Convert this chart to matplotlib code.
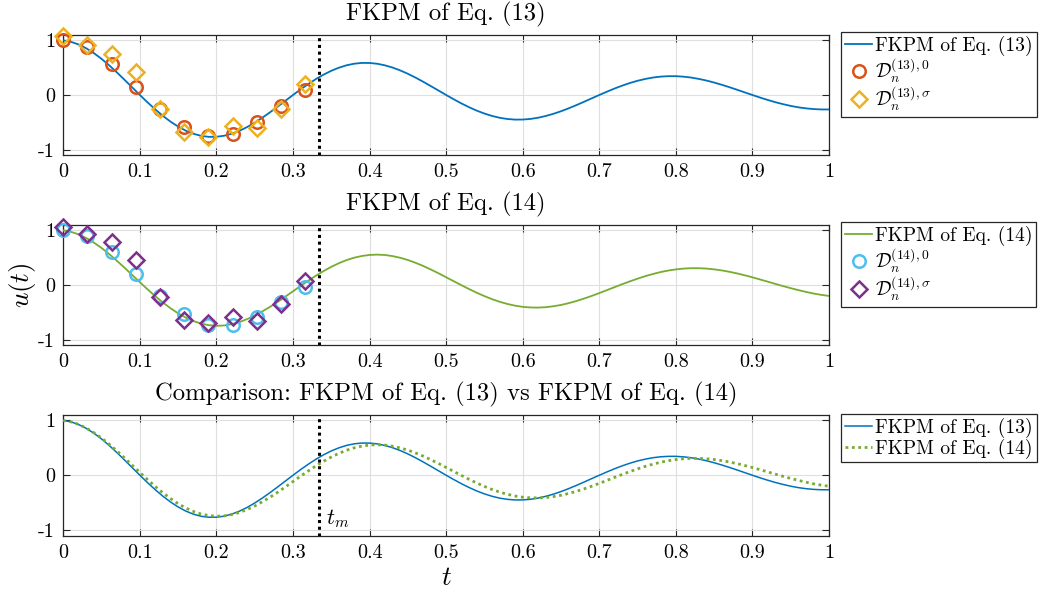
import matplotlib
matplotlib.use("Agg")
import matplotlib.pyplot as plt

# ---------------- data ----------------
t_curve = [round(0.01 * k, 2) for k in range(101)]
u13_curve = [1.000, 0.975, 0.926, 0.856, 0.767, 0.662, 0.543, 0.414, 0.278, 0.139,
             0.000, -0.135, -0.263, -0.382, -0.488, -0.579, -0.654, -0.711, -0.749, -0.767,
             -0.766, -0.747, -0.710, -0.656, -0.588, -0.507, -0.416, -0.317, -0.213, -0.106,
             0.000, 0.104, 0.202, 0.293, 0.374, 0.444, 0.501, 0.545, 0.574, 0.588,
             0.587, 0.573, 0.544, 0.503, 0.451, 0.389, 0.319, 0.243, 0.163, 0.082,
             0.000, -0.079, -0.155, -0.224, -0.287, -0.340, -0.384, -0.418, -0.440, -0.451,
             -0.450, -0.439, -0.417, -0.385, -0.345, -0.298, -0.244, -0.186, -0.125, -0.062,
             0.000, 0.061, 0.119, 0.172, 0.220, 0.261, 0.294, 0.320, 0.337, 0.345,
             0.345, 0.336, 0.320, 0.295, 0.265, 0.228, 0.187, 0.143, 0.096, 0.048,
             0.000, -0.047, -0.091, -0.132, -0.168, -0.200, -0.226, -0.245, -0.258, -0.265,
             -0.265]
u14_curve = [1.000, 0.975, 0.928, 0.861, 0.777, 0.678, 0.566, 0.444, 0.316, 0.183,
             0.051, -0.079, -0.204, -0.320, -0.426, -0.520, -0.598, -0.661, -0.708, -0.736,
             -0.748, -0.742, -0.718, -0.681, -0.625, -0.563, -0.483, -0.401, -0.310, -0.213,
             -0.115, -0.016, 0.080, 0.171, 0.256, 0.333, 0.400, 0.457, 0.501, 0.532,
             0.551, 0.557, 0.550, 0.530, 0.499, 0.458, 0.407, 0.349, 0.284, 0.215,
             0.142, 0.069, -0.004, -0.075, -0.142, -0.204, -0.260, -0.308, -0.348, -0.379,
             -0.401, -0.412, -0.414, -0.407, -0.390, -0.366, -0.333, -0.294, -0.249, -0.201,
             -0.148, -0.094, -0.039, 0.015, 0.067, 0.116, 0.162, 0.202, 0.237, 0.265,
             0.286, 0.301, 0.308, 0.308, 0.301, 0.287, 0.267, 0.242, 0.212, 0.178,
             0.141, 0.101, 0.061, 0.020, -0.020, -0.058, -0.094, -0.127, -0.157, -0.181,
             -0.201]

t_pts = [0.0, 0.0316, 0.0632, 0.0948, 0.1264, 0.158, 0.1896, 0.2212, 0.2528, 0.2844, 0.316]
d13_0 = [1.00, 0.885, 0.56, 0.15, -0.25, -0.58, -0.75, -0.71, -0.50, -0.195, 0.10]
d13_s = [1.08, 0.91, 0.76, 0.415, -0.26, -0.67, -0.77, -0.57, -0.61, -0.26, 0.21]
d14_0 = [1.00, 0.89, 0.60, 0.195, -0.20, -0.53, -0.74, -0.735, -0.58, -0.305, -0.03]
d14_s = [1.07, 0.93, 0.785, 0.46, -0.215, -0.64, -0.70, -0.58, -0.66, -0.355, 0.08]

t_m = 1.0 / 3.0

xticks = [0, 0.1, 0.2, 0.3, 0.4, 0.5, 0.6, 0.7, 0.8, 0.9, 1]
xticklabels = ["0", "0.1", "0.2", "0.3", "0.4", "0.5", "0.6", "0.7", "0.8", "0.9", "1"]
yticks = [-1, 0, 1]
yticklabels = ["-1", "0", "1"]

titles = ["FKPM of Eq. (13)", "FKPM of Eq. (14)",
          "Comparison: FKPM of Eq. (13) vs FKPM of Eq. (14)"]

# ---------------- style ----------------
plt.rcParams["font.family"] = "serif"
plt.rcParams["font.serif"] = ["cmr10"]
plt.rcParams["mathtext.fontset"] = "cm"
plt.rcParams["axes.unicode_minus"] = False
plt.rcParams["axes.formatter.use_mathtext"] = True

C_BLUE = "#0072BD"
C_RED = "#D95319"
C_YEL = "#EDB120"
C_PUR = "#7E2F8E"
C_GRN = "#77AC30"
C_CYAN = "#4DBEEE"

TICK_FS = 14.5
TITLE_FS = 17.8
LEG_FS = 14

W, H = 1043, 598
fig = plt.figure(figsize=(W / 100, H / 100), dpi=100)

left = 63.3 / W
width = (829 - 63.3) / W
boxes = [(35, 155), (225, 345), (415, 535.5)]
axes = []
for (top, bot) in boxes:
    ax = fig.add_axes([left, 1 - bot / H, width, (bot - top) / H])
    axes.append(ax)


def style(ax, title):
    ax.set_xlim(0, 1)
    ax.set_ylim(-1.1, 1.1)
    ax.set_xticks(xticks)
    ax.set_xticklabels(xticklabels)
    ax.set_yticks(yticks)
    ax.set_yticklabels(yticklabels)
    ax.tick_params(direction="in", length=5, width=0.8, top=True, right=True,
                   labelsize=TICK_FS, colors="#262626", pad=6)
    for lab in ax.get_xticklabels() + ax.get_yticklabels():
        lab.set_color("black")
    ax.grid(True, color="#dfdfdf", linewidth=0.8)
    ax.set_axisbelow(True)
    for s in ax.spines.values():
        s.set_color("#262626")
        s.set_linewidth(0.9)
    ax.set_title(title, fontsize=TITLE_FS, pad=10.5)
    ax.axvline(t_m, color="black", linestyle=(0, (1, 1.2)), linewidth=2.2, zorder=4)


mk = dict(linestyle="none", markerfacecolor="none", markeredgewidth=1.8, clip_on=False)

# panel 1
ax = axes[0]
style(ax, titles[0])
ax.plot(t_curve, u13_curve, color=C_BLUE, linewidth=1.3, label="FKPM of Eq. (13)", zorder=3)
ax.plot(t_pts, d13_0, marker="o", markersize=9, markeredgecolor=C_RED,
        label=r"$\mathcal{D}_n^{(13),0}$", zorder=5, **mk)
ax.plot(t_pts, d13_s, marker="D", markersize=8, markeredgecolor=C_YEL,
        label=r"$\mathcal{D}_n^{(13),\sigma}$", zorder=6, **mk)

# panel 2
ax = axes[1]
style(ax, titles[1])
ax.plot(t_curve, u14_curve, color=C_GRN, linewidth=1.3, label="FKPM of Eq. (14)", zorder=3)
ax.plot(t_pts, d14_0, marker="o", markersize=9, markeredgecolor=C_CYAN,
        label=r"$\mathcal{D}_n^{(14),0}$", zorder=5, **mk)
ax.plot(t_pts, d14_s, marker="D", markersize=8, markeredgecolor=C_PUR,
        label=r"$\mathcal{D}_n^{(14),\sigma}$", zorder=6, **mk)
ax.set_ylabel(r"$u(t)$", fontsize=19.5, labelpad=0)

# panel 3
ax = axes[2]
style(ax, titles[2])
ax.plot(t_curve, u13_curve, color=C_BLUE, linewidth=1.1, label="FKPM of Eq. (13)", zorder=3)
ax.plot(t_curve, u14_curve, color=C_GRN, linewidth=2.0, linestyle=(0, (1, 1.3)),
        label="FKPM of Eq. (14)", zorder=3)
ax.text(t_m + 0.01, -1.0, r"$t_m$", fontsize=16, ha="left", va="bottom")
ax.set_xlabel(r"$t$", fontsize=19.5, labelpad=3)

# legends (outside right)
leg_tops = [32, 222, 414]
for ax, top in zip(axes, leg_tops):
    leg = ax.legend(loc="upper left", bbox_to_anchor=(841 / W, 1 - top / H),
                    bbox_transform=fig.transFigure, borderaxespad=0,
                    fontsize=LEG_FS, frameon=True, fancybox=False, framealpha=1,
                    edgecolor="#262626", handlelength=1.4, handletextpad=0.15,
                    borderpad=0.2, labelspacing=0.02)
    leg.get_frame().set_linewidth(0.9)

fig.savefig("out.png", dpi=100)
